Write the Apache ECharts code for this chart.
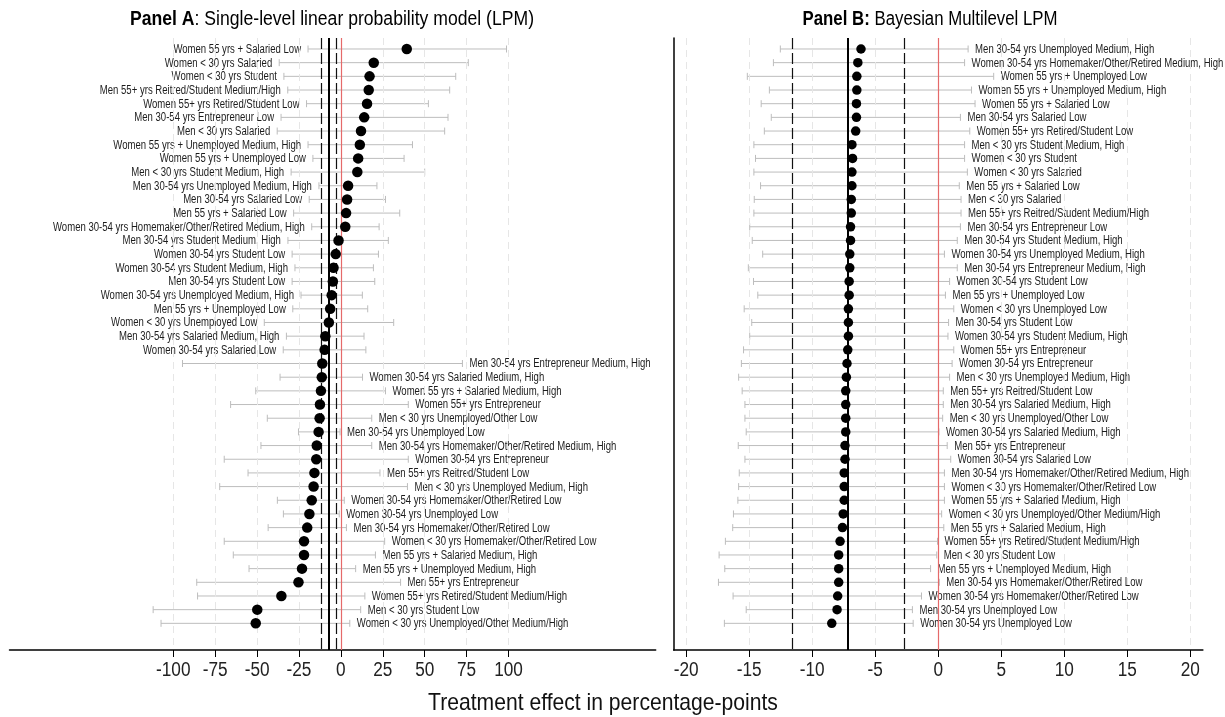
<!DOCTYPE html>
<html>
<head>
<meta charset="utf-8">
<script src="https://cdn.jsdelivr.net/npm/echarts@6/dist/echarts.min.js"></script>
<style>html,body{margin:0;padding:0;background:#fff;}#c{width:1225px;height:717px;}</style>
</head>
<body>
<div id="c"></div>
<script>
// ---------- DATA ----------
const labelsA = [
"Women 55 yrs + Salaried Low","Women < 30 yrs Salaried","Women < 30 yrs Student","Men 55+ yrs Reitred/Student Medium/High",
"Women 55+ yrs Retired/Student Low","Men 30-54 yrs Entrepreneur Low","Men < 30 yrs Salaried","Women 55 yrs + Unemployed Medium, High",
"Women 55 yrs + Unemployed Low","Men < 30 yrs Student Medium, High","Men 30-54 yrs Unemployed Medium, High","Men 30-54 yrs Salaried Low",
"Men 55 yrs + Salaried Low","Women 30-54 yrs Homemaker/Other/Retired Medium, High","Men 30-54 yrs Student Medium, High","Women 30-54 yrs Student Low",
"Women 30-54 yrs Student Medium, High","Men 30-54 yrs Student Low","Women 30-54 yrs Unemployed Medium, High","Men 55 yrs + Unemployed Low",
"Women < 30 yrs Unemployed Low","Men 30-54 yrs Salaried Medium, High","Women 30-54 yrs Salaried Low","Men 30-54 yrs Entrepreneur Medium, High",
"Women 30-54 yrs Salaried Medium, High","Women 55 yrs + Salaried Medium, High","Women 55+ yrs Entrepreneur","Men < 30 yrs Unemployed/Other Low",
"Men 30-54 yrs Unemployed Low","Men 30-54 yrs Homemaker/Other/Retired Medium, High","Women 30-54 yrs Entrepreneur","Men 55+ yrs Reitred/Student Low",
"Men < 30 yrs Unemployed Medium, High","Women 30-54 yrs Homemaker/Other/Retired Low","Women 30-54 yrs Unemployed Low","Men 30-54 yrs Homemaker/Other/Retired Low",
"Women < 30 yrs Homemaker/Other/Retired Low","Men 55 yrs + Salaried Medium, High","Men 55 yrs + Unemployed Medium, High","Men 55+ yrs Entrepreneur",
"Women 55+ yrs Retired/Student Medium/High","Men < 30 yrs Student Low","Women < 30 yrs Unemployed/Other Medium/High"
];
const estA = [39.3,19.6,17.1,16.6,15.6,13.9,12.0,11.3,10.3,9.8,4.3,3.7,3.1,2.6,-1.4,-3.1,-4.4,-4.8,-5.5,-6.4,-7.2,-9.3,-9.7,
  -11.1,-11.4,-11.9,-12.5,-12.7,-13.3,-14.4,-14.7,-15.8,-16.3,-17.4,-18.8,-20.1,-22.0,-22.0,-23.2,-25.3,-35.5,-49.9,-50.8];
const loA = [-19.6,-36.8,-34.0,-31.7,-20.5,-35.7,-38.0,-19.6,-16.7,-29.7,-13.1,-18.9,-28.2,-17.4,-31.6,-29.1,-27.4,-29.1,-23.8,-28.7,-45.7,-32.5,-34.4,
  -94.5,-36.3,-50.8,-65.8,-43.9,-25.3,-47.7,-69.6,-55.4,-72.3,-37.9,-34.3,-43.4,-69.6,-64.2,-54.8,-86.0,-85.5,-112.0,-107.3];
const hiA = [98.8,76.0,68.5,64.9,52.2,63.9,61.9,42.7,37.7,50.0,21.5,26.6,35.1,22.8,28.3,22.4,19.4,20.2,12.8,16.0,31.5,13.8,14.9,
  72.5,12.9,26.6,40.2,18.4,-0.5,18.4,40.2,23.3,39.7,2.0,-1.0,3.3,26.1,20.6,8.8,35.6,14.3,11.8,5.3];
const leftLabelCountA = 23; // first rows of Panel A carry their label on the left

const labelsB = [
"Men 30-54 yrs Unemployed Medium, High","Women 30-54 yrs Homemaker/Other/Retired Medium, High","Women 55 yrs + Unemployed Low","Women 55 yrs + Unemployed Medium, High",
"Women 55 yrs + Salaried Low","Men 30-54 yrs Salaried Low","Women 55+ yrs Retired/Student Low","Men < 30 yrs Student Medium, High",
"Women < 30 yrs Student","Women < 30 yrs Salaried","Men 55 yrs + Salaried Low","Men < 30 yrs Salaried",
"Men 55+ yrs Reitred/Student Medium/High","Men 30-54 yrs Entrepreneur Low","Men 30-54 yrs Student Medium, High","Women 30-54 yrs Unemployed Medium, High",
"Men 30-54 yrs Entrepreneur Medium, High","Women 30-54 yrs Student Low","Men 55 yrs + Unemployed Low","Women < 30 yrs Unemployed Low",
"Men 30-54 yrs Student Low","Women 30-54 yrs Student Medium, High","Women 55+ yrs Entrepreneur","Women 30-54 yrs Entrepreneur",
"Men < 30 yrs Unemployed Medium, High","Men 55+ yrs Reitred/Student Low","Men 30-54 yrs Salaried Medium, High","Men < 30 yrs Unemployed/Other Low",
"Women 30-54 yrs Salaried Medium, High","Men 55+ yrs Entrepreneur","Women 30-54 yrs Salaried Low","Men 30-54 yrs Homemaker/Other/Retired Medium, High",
"Women < 30 yrs Homemaker/Other/Retired Low","Women 55 yrs + Salaried Medium, High","Women < 30 yrs Unemployed/Other Medium/High","Men 55 yrs + Salaried Medium, High",
"Women 55+ yrs Retired/Student Medium/High","Men < 30 yrs Student Low","Men 55 yrs + Unemployed Medium, High","Men 30-54 yrs Homemaker/Other/Retired Low",
"Women 30-54 yrs Homemaker/Other/Retired Low","Men 30-54 yrs Unemployed Low","Women 30-54 yrs Unemployed Low"
];
const estB = [-6.13,-6.38,-6.46,-6.46,-6.49,-6.49,-6.55,-6.85,-6.80,-6.85,-6.85,-6.90,-6.90,-6.96,-6.96,-7.02,-7.02,-7.07,-7.07,-7.13,-7.13,-7.13,
  -7.18,-7.24,-7.29,-7.34,-7.34,-7.34,-7.34,-7.40,-7.40,-7.46,-7.46,-7.46,-7.54,-7.60,-7.79,-7.90,-7.90,-7.90,-7.98,-8.03,-8.45];
const loB = [-12.53,-13.08,-15.15,-13.40,-14.05,-13.25,-13.80,-14.63,-14.50,-14.63,-14.10,-14.60,-14.63,-14.96,-14.76,-13.93,-15.07,-14.66,-14.32,-15.40,-14.80,-14.96,
  -15.45,-15.62,-15.84,-15.56,-15.34,-15.34,-15.24,-15.87,-15.34,-15.79,-15.84,-15.90,-16.25,-16.31,-16.89,-17.39,-16.94,-17.44,-16.28,-15.24,-16.97];
const hiB = [2.37,2.09,4.40,2.64,2.92,1.76,2.50,2.09,2.09,2.31,1.67,1.81,1.81,1.76,1.51,0.49,1.51,0.90,0.57,1.23,0.82,0.77,
  1.23,1.10,0.90,0.40,0.40,0.35,0.05,0.71,0.99,0.49,0.49,0.49,0.27,0.44,-0.06,-0.12,-0.61,0.08,-1.33,-2.05,-1.99];

const ticksA = [-100,-75,-50,-25,0,25,50,75,100];
const ticksB = [-20,-15,-10,-5,0,5,10,15,20];
const overallEffect = -7.2;      // solid black line
const overallCI = [-11.6, -2.7]; // dashed black lines
const nullEffect = 0;            // red line

// ---------- STYLE ----------
const FONT = "'Liberation Sans', Arial, sans-serif";
const NARROW = 0.765;             // horizontal squeeze to mimic a narrow face
const ROWMIN = -0.804, ROWMAX = 43.95;

function errBars(gi, lo, hi) {
  return {
    type: 'custom', xAxisIndex: gi, yAxisIndex: gi, silent: true, z: 3,
    data: lo.map((v, i) => [v, hi[i], i]),
    encode: { x: [0, 1], y: 2 },
    renderItem: function (params, api) {
      const a = api.coord([api.value(0), api.value(2)]);
      const b = api.coord([api.value(1), api.value(2)]);
      const st = { stroke: '#bdbdbd', lineWidth: 1 };
      return {
        type: 'group',
        children: [
          { type: 'line', shape: { x1: a[0], y1: a[1], x2: b[0], y2: b[1] }, style: st },
          { type: 'line', shape: { x1: a[0], y1: a[1] - 3.5, x2: a[0], y2: a[1] + 3.5 }, style: st },
          { type: 'line', shape: { x1: b[0], y1: b[1] - 3.5, x2: b[0], y2: b[1] + 3.5 }, style: st }
        ]
      };
    }
  };
}
function refLines(gi) {
  return {
    type: 'line', xAxisIndex: gi, yAxisIndex: gi, data: [], z: 2, silent: true,
    markLine: {
      silent: true, symbol: 'none', label: { show: false },
      data: [
        { xAxis: overallCI[0], lineStyle: { color: '#111', width: 1.2, type: [11, 4] } },
        { xAxis: overallCI[1], lineStyle: { color: '#111', width: 1.2, type: [11, 4] } },
        { xAxis: overallEffect, lineStyle: { color: '#000', width: 2, type: 'solid' } },
        { xAxis: nullEffect, lineStyle: { color: '#e56a6a', width: 1.2, type: 'solid' } }
      ]
    }
  };
}
function gridLines(gi, ticks) {
  return {
    type: 'line', xAxisIndex: gi, yAxisIndex: gi, data: [], z: 1, silent: true,
    markLine: {
      silent: true, symbol: 'none', label: { show: false },
      lineStyle: { color: '#e6e6e6', width: 1, type: [7, 5] },
      data: ticks.map(t => ({ xAxis: t }))
    }
  };
}
// row labels: [x, row, side(-1 left / +1 right)]
function labelSeries(gi, names, items) {
  return {
    type: 'custom', xAxisIndex: gi, yAxisIndex: gi, silent: true, z: 4, clip: false,
    data: items,
    encode: { x: 0, y: 1 },
    renderItem: function (params, api) {
      const side = api.value(2);
      const p = api.coord([api.value(0), api.value(1)]);
      return {
        type: 'text', x: p[0] + side * 7, y: p[1] + 0.5, scaleX: NARROW,
        style: { text: names[params.dataIndex], fill: '#1c1c1c', fontSize: 12.5, fontFamily: FONT,
                 align: side < 0 ? 'right' : 'left', verticalAlign: 'middle' }
      };
    }
  };
}
function tickLabelSeries(gi, ticks) {
  return {
    type: 'custom', xAxisIndex: gi, yAxisIndex: gi, silent: true, z: 4, clip: false,
    data: ticks.map(t => [t, ROWMAX]),
    encode: { x: 0, y: 1 },
    renderItem: function (params, api) {
      const p = api.coord([api.value(0), api.value(1)]);
      return {
        type: 'text', x: p[0], y: p[1] + 20, scaleX: 0.86,
        style: { text: String(api.value(0)), fill: '#222', fontSize: 20, fontFamily: FONT,
                 align: 'center', verticalAlign: 'middle' }
      };
    }
  };
}
function pointSeries(gi, est, size) {
  return {
    type: 'scatter', xAxisIndex: gi, yAxisIndex: gi, symbol: 'circle', symbolSize: size, z: 6, silent: true,
    itemStyle: { color: '#000', opacity: 1 },
    data: est.map((v, i) => [v, i])
  };
}

const itemsA = labelsA.map((n, i) => i < leftLabelCountA ? [loA[i], i, -1] : [hiA[i], i, 1]);
const itemsB = labelsB.map((n, i) => [hiB[i], i, 1]);

const xAxisCommon = (gi, min, max, ticks) => ({
  type: 'value', gridIndex: gi, min: min, max: max,
  axisLine: { show: true, onZero: false, lineStyle: { color: '#000', width: 1.5 } },
  axisTick: { show: true, customValues: ticks, length: 7, lineStyle: { color: '#000', width: 1 } },
  axisLabel: { show: false },
  splitLine: { show: false }
});

const chart = echarts.init(document.getElementById('c'), null, { renderer: 'canvas' });
chart.setOption({
  animation: false,
  backgroundColor: '#fff',
  graphic: [
    { type: 'text', x: 332, y: 19, scaleX: 0.88, silent: true,
      style: { text: '{b|Panel A}: Single-level linear probability model (LPM)', fill: '#000', fontSize: 20, fontFamily: FONT,
        align: 'center', verticalAlign: 'middle', rich: { b: { fontSize: 20, fontWeight: 'bold', fill: '#000', fontFamily: FONT } } } },
    { type: 'text', x: 930, y: 19, scaleX: 0.84, silent: true,
      style: { text: '{b|Panel B:} Bayesian Multilevel LPM', fill: '#000', fontSize: 20, fontFamily: FONT,
        align: 'center', verticalAlign: 'middle', rich: { b: { fontSize: 20, fontWeight: 'bold', fill: '#000', fontFamily: FONT } } } },
    { type: 'text', x: 603, y: 703, scaleX: 0.88, silent: true,
      style: { text: 'Treatment effect in percentage-points', fill: '#111', fontSize: 24, fontFamily: FONT,
        align: 'center', verticalAlign: 'middle' } }
  ],
  grid: [
    { left: 9.5, width: 646.2, top: 38, height: 612 },
    { left: 673.6, width: 529.3, top: 38, height: 612 }
  ],
  xAxis: [
    xAxisCommon(0, -197.7, 187.8, ticksA),
    xAxisCommon(1, -21, 21, ticksB)
  ],
  yAxis: [
    { type: 'value', gridIndex: 0, inverse: true, min: ROWMIN, max: ROWMAX, show: false },
    { type: 'value', gridIndex: 1, inverse: true, min: ROWMIN, max: ROWMAX,
      axisLine: { show: true, onZero: false, lineStyle: { color: '#000', width: 1.5 } },
      axisTick: { show: false }, axisLabel: { show: false }, splitLine: { show: false } }
  ],
  series: [
    gridLines(0, ticksA),
    gridLines(1, ticksB),
    refLines(0),
    refLines(1),
    errBars(0, loA, hiA),
    errBars(1, loB, hiB),
    labelSeries(0, labelsA, itemsA),
    labelSeries(1, labelsB, itemsB),
    tickLabelSeries(0, ticksA),
    tickLabelSeries(1, ticksB),
    pointSeries(0, estA, 10.5),
    pointSeries(1, estB, 9.5)
  ]
});
</script>
</body>
</html>
